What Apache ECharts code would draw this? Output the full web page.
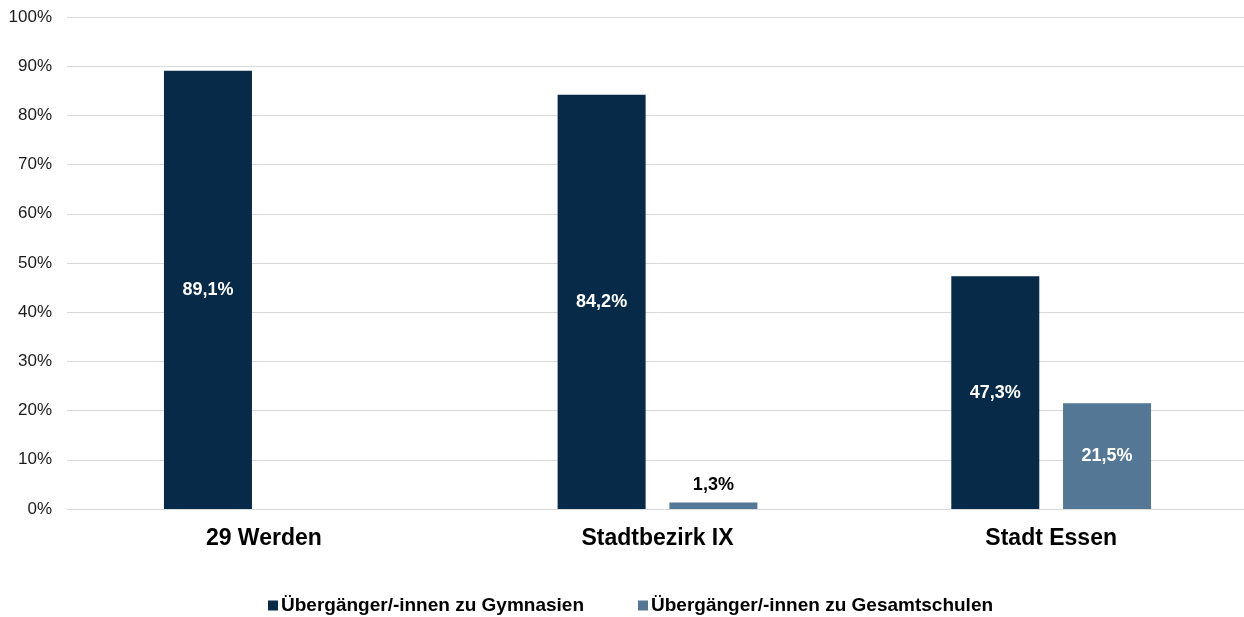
<!DOCTYPE html>
<html>
<head>
<meta charset="utf-8">
<script src="https://cdn.jsdelivr.net/npm/echarts@6/dist/echarts.min.js"></script>
<style>html,body{margin:0;padding:0;background:#fff;overflow:hidden}#c{width:1252px;height:617px}</style>
</head>
<body>
<div id="c"></div>
<script>
const categories = ['29 Werden', 'Stadtbezirk IX', 'Stadt Essen'];
const seriesNames = ['Übergänger/-innen zu Gymnasien', 'Übergänger/-innen zu Gesamtschulen'];
const gymnasien = [89.1, 84.2, 47.3];
const gesamtschulen = [null, 1.3, 21.5];
const yTicks = [0, 10, 20, 30, 40, 50, 60, 70, 80, 90, 100];

const fmt = v => v.toFixed(1).replace('.', ',') + '%';
const font = '"Liberation Sans", Arial, sans-serif';

const chart = echarts.init(document.getElementById('c'), null, {renderer: 'canvas'});
chart.setOption({
  animation: false,
  textStyle: {fontFamily: font},
  grid: {left: 67, right: 4, top: 17, height: 492, containLabel: false},
  legend: {
    data: seriesNames,
    top: 591,
    left: 263,
    itemWidth: 10, itemHeight: 10, itemGap: 54,
    icon: 'rect',
    textStyle: {fontFamily: font, fontWeight: 'bold', fontSize: 19, color: '#000', padding: [0, 0, 0, -2]}
  },
  xAxis: {
    type: 'category',
    data: categories,
    axisLine: {show: true, lineStyle: {color: '#d9d9d9', width: 1}},
    axisTick: {show: false},
    axisLabel: {fontFamily: font, fontWeight: 'bold', fontSize: 23, color: '#000', margin: 18}
  },
  yAxis: {
    type: 'value',
    min: yTicks[0], max: yTicks[yTicks.length - 1], interval: 10,
    axisLine: {show: false}, axisTick: {show: false},
    splitLine: {lineStyle: {color: '#d9d9d9', width: 1}},
    axisLabel: {fontFamily: font, fontSize: 17, color: '#1a1a1a', margin: 15, formatter: '{value}%'}
  },
  series: [
    {
      name: seriesNames[0], type: 'bar', data: gymnasien,
      barWidth: 88, barGap: '27%',
      itemStyle: {color: '#062a48'},
      label: {show: true, position: 'inside', color: '#fff', fontWeight: 'bold', fontSize: 18, fontFamily: font,
        formatter: p => fmt(p.value)}
    },
    {
      name: seriesNames[1], type: 'bar',
      data: gesamtschulen.map(v => v === null ? null : (v < 5
        ? {value: v, label: {position: 'top', color: '#000', distance: 9}}
        : v)),
      barWidth: 88, barGap: '27%',
      itemStyle: {color: '#537795'},
      label: {show: true, position: 'inside', color: '#fff', fontWeight: 'bold', fontSize: 18, fontFamily: font,
        formatter: p => fmt(p.value)}
    }
  ]
});
</script>
</body>
</html>
